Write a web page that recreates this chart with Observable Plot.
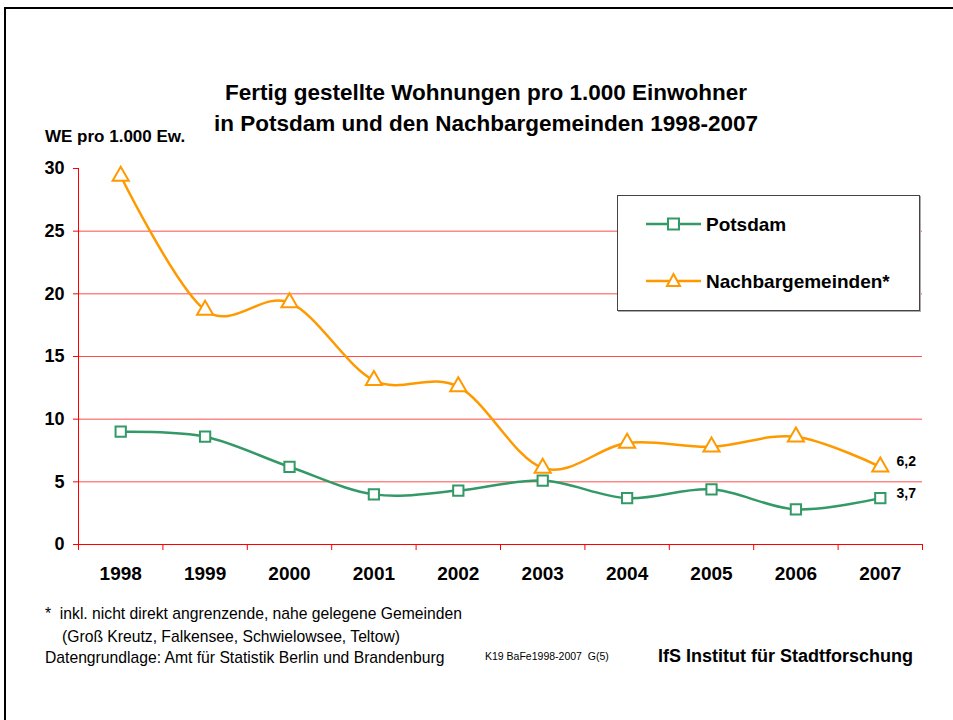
<!DOCTYPE html>
<html>
<head>
<meta charset="utf-8">
<script src="https://cdn.jsdelivr.net/npm/d3@7"></script>
<script src="https://cdn.jsdelivr.net/npm/@observablehq/plot@0.6"></script>
<style>
  html, body { margin: 0; padding: 0; background: #fff; }
  body { font-family: "Liberation Sans", Arial, sans-serif; }
  #page { position: relative; width: 953px; height: 720px; overflow: hidden; background: #fff; }
  #frame { position: absolute; left: 4px; top: 7px; width: 960px; height: 720px; border-top: 2px solid #000; border-left: 2px solid #000; }
  .t { position: absolute; white-space: nowrap; color: #000; }
  #chart { position: absolute; left: 0; top: 0; }
  #legend { position: absolute; left: 617px; top: 195px; width: 301px; height: 114px; border: 1px solid #444; background: #fff; box-shadow: 1px 1px 0 #aaa; }
</style>
</head>
<body>
<div id="page">
  <div id="frame"></div>
  <div id="chart"></div>
  <div class="t" style="left:0;width:972px;text-align:center;top:77px;font-size:22.5px;font-weight:bold;line-height:31px;">Fertig gestellte Wohnungen pro 1.000 Einwohner<br>in Potsdam und den Nachbargemeinden 1998-2007</div>
  <div class="t" style="left:45px;top:127px;font-size:17px;font-weight:bold;">WE pro 1.000 Ew.</div>
  <div id="legend"></div>
  <div class="t" style="left:45px;top:602px;font-size:15.7px;line-height:23px;">*&nbsp; inkl. nicht direkt angrenzende, nahe gelegene Gemeinden</div>
  <div class="t" style="left:62px;top:625px;font-size:15.7px;line-height:23px;">(Groß Kreutz, Falkensee, Schwielowsee, Teltow)</div>
  <div class="t" style="left:45px;top:646px;font-size:15.7px;line-height:23px;">Datengrundlage: Amt für Statistik Berlin und Brandenburg</div>
  <div class="t" style="left:485px;top:650px;font-size:10.5px;">K19 BaFe1998-2007&nbsp; G(5)</div>
  <div class="t" style="left:658px;top:646px;font-size:18px;font-weight:bold;">IfS Institut für Stadtforschung</div>
</div>
<script>
// ---- data ----
const years = [1998, 1999, 2000, 2001, 2002, 2003, 2004, 2005, 2006, 2007];
const potsdam = [9.0, 8.6, 6.2, 4.0, 4.3, 5.1, 3.7, 4.4, 2.8, 3.7];
const nachbar = [29.4, 18.7, 19.3, 13.1, 12.6, 6.1, 8.1, 7.8, 8.6, 6.2];
const seriesNames = ["Potsdam", "Nachbargemeinden*"];
const yTicks = [0, 5, 10, 15, 20, 25, 30];

const colors = { "Potsdam": "#339966", "Nachbargemeinden*": "#FF9900" };
const symbols = { "Potsdam": "square", "Nachbargemeinden*": "triangle" };

const rows = [];
years.forEach((yr, i) => {
  rows.push({ series: seriesNames[0], year: yr, value: potsdam[i] });
  rows.push({ series: seriesNames[1], year: yr, value: nachbar[i] });
});
const pRows = rows.filter(d => d.series === seriesNames[0]);
const nRows = rows.filter(d => d.series === seriesNames[1]);
const lastRows = rows.filter(d => d.year === years[years.length - 1]);
const boundaries = years.map(y => y - 0.5).concat([years[years.length - 1] + 0.5]);
const gridVals = yTicks.filter(v => v > 0 && v < 30);

const fmt = v => String(v.toFixed(1)).replace(".", ",");

const chart = Plot.plot({
  width: 953,
  height: 720,
  marginLeft: 78,
  marginRight: 31,
  marginTop: 168,
  marginBottom: 176,
  style: { fontFamily: "'Liberation Sans', Arial, sans-serif", background: "transparent", overflow: "visible" },
  x: { domain: [boundaries[0], boundaries[boundaries.length - 1]] },
  y: { domain: [0, 30] },
  marks: [
    Plot.ruleY(gridVals, { stroke: "#ff4d4d", strokeWidth: 1 }),
    Plot.frame({ anchor: "left", stroke: "#ff0000" }),
    Plot.frame({ anchor: "bottom", stroke: "#ff0000" }),
    Plot.axisY({ ticks: yTicks, tickSize: 5, tickPadding: 9, stroke: "#ff0000", fill: "#000", fontSize: 18, fontWeight: "bold", label: null, tickFormat: d => String(d) }),
    Plot.axisX({ ticks: boundaries, tickSize: 6, stroke: "#ff0000", tickFormat: () => "", label: null }),
    Plot.axisX({ ticks: years, tickSize: 0, tickPadding: 22, fill: "#000", fontSize: 19, fontWeight: "bold", label: null, tickFormat: d => String(d) }),
    Plot.line(pRows, { x: "year", y: "value", stroke: colors["Potsdam"], strokeWidth: 2.5, curve: "cardinal" }),
    Plot.line(nRows, { x: "year", y: "value", stroke: colors["Nachbargemeinden*"], strokeWidth: 2.5, curve: "cardinal" }),
    Plot.dot(pRows, { x: "year", y: "value", symbol: "square", r: 5.8, fill: "white", stroke: colors["Potsdam"], strokeWidth: 2 }),
    Plot.dot(nRows, { x: "year", y: "value", symbol: "triangle", r: 6, fill: "white", stroke: colors["Nachbargemeinden*"], strokeWidth: 2 }),
    Plot.text(lastRows, { x: "year", y: "value", text: d => fmt(d.value), dx: 26, dy: -5, fontSize: 14, fontWeight: "bold", fill: "#000" })
  ]
});
document.getElementById("chart").appendChild(chart);

// ---- legend ----
const legend = document.getElementById("legend");
const ly = [28, 85];
let html = '<svg width="301" height="114" style="position:absolute;left:0;top:0">';
seriesNames.forEach((name, i) => {
  const c = colors[name];
  const y = ly[i];
  html += `<line x1="28" x2="83" y1="${y}" y2="${y}" stroke="${c}" stroke-width="2.5"/>`;
  if (symbols[name] === "square") {
    html += `<rect x="${55.5 - 5.5}" y="${y - 5.5}" width="11" height="11" fill="white" stroke="${c}" stroke-width="2"/>`;
  } else {
    html += `<path d="M55.5,${y - 7} L62,${y + 5} L49,${y + 5} Z" fill="white" stroke="${c}" stroke-width="2"/>`;
  }
  html += `<text x="88" y="${y + 7}" font-size="19" font-weight="bold" font-family="Liberation Sans, Arial, sans-serif" fill="#000">${name}</text>`;
});
html += '</svg>';
legend.innerHTML = html;
</script>
</body>
</html>
